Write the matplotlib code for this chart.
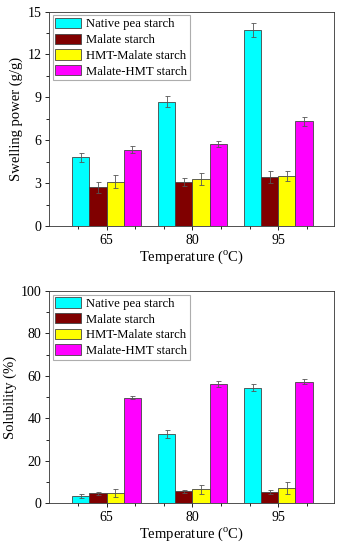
import matplotlib
matplotlib.use("Agg")
import matplotlib.pyplot as plt
import numpy as np

plt.rcParams['font.family'] = ['Liberation Serif', 'DejaVu Serif']
plt.rcParams['mathtext.fontset'] = 'custom'
plt.rcParams['mathtext.rm'] = 'Liberation Serif'

temps = ['65', '80', '95']
series = ['Native pea starch', 'Malate starch', 'HMT-Malate starch', 'Malate-HMT starch']
colors = ['#00FFFF', '#800000', '#FFFF00', '#FF00FF']

swell = [[4.8, 8.7, 13.7],
         [2.7, 3.05, 3.42],
         [3.1, 3.28, 3.47],
         [5.35, 5.72, 7.33]]
swell_err = [[0.3, 0.4, 0.5],
             [0.4, 0.28, 0.4],
             [0.45, 0.4, 0.35],
             [0.22, 0.22, 0.33]]

solub = [[3.5, 32.5, 54.5],
         [4.6, 5.6, 5.4],
         [4.9, 6.5, 7.0],
         [49.7, 56.2, 57.3]]
solub_err = [[0.9, 1.8, 1.8],
             [0.6, 0.6, 1.0],
             [2.0, 2.2, 2.8],
             [0.7, 1.3, 1.3]]

fig = plt.figure(figsize=(3.48, 5.5), dpi=100)
ax1 = fig.add_axes([0.141, 0.589, 0.819, 0.390])
ax2 = fig.add_axes([0.141, 0.085, 0.819, 0.386])

x = np.arange(len(temps))
w = 0.2


def draw(ax, vals, errs, ymax, ystep, ylabel):
    for i in range(4):
        ax.bar(x + (i - 1.5) * w, vals[i], w, color=colors[i], edgecolor='#444444',
               linewidth=0.6, label=series[i],
               yerr=errs[i], error_kw=dict(ecolor='#555555', elinewidth=0.6,
                                           capsize=1.8, capthick=0.6))
    ax.set_xlim(-0.67, 2.65)
    ax.set_ylim(0, ymax)
    ax.set_yticks(np.arange(0, ymax + 0.01, ystep))
    ax.set_yticks(np.arange(ystep / 2, ymax, ystep), minor=True)
    ax.set_xticks(x)
    ax.set_xticklabels(temps)
    ax.set_xticks(np.concatenate([x - 1 / 3, x + 1 / 3]), minor=True)
    ax.tick_params(labelsize=10, width=0.6, length=3, direction='out', top=False, right=False, pad=2.5)
    ax.tick_params(which='minor', width=0.6, length=2)
    for s in ax.spines.values():
        s.set_linewidth(0.6)
        s.set_color('#333333')
    ax.set_ylabel(ylabel, fontsize=10.5, labelpad=3)
    ax.set_xlabel('Temperature ($^{\\rm o}$C)', fontsize=10.5, labelpad=1)
    leg = ax.legend(loc='upper left', fontsize=9.2, frameon=True, fancybox=False,
                    borderaxespad=0.3, handlelength=2.0, handleheight=0.85,
                    labelspacing=0.25, borderpad=0.2, handletextpad=0.4)
    leg.get_frame().set_edgecolor('#999999')
    leg.get_frame().set_linewidth(0.8)


draw(ax1, swell, swell_err, 15, 3, 'Swelling power (g/g)')
draw(ax2, solub, solub_err, 100, 20, 'Solubility (%)')

fig.savefig('out.png', dpi=100)
